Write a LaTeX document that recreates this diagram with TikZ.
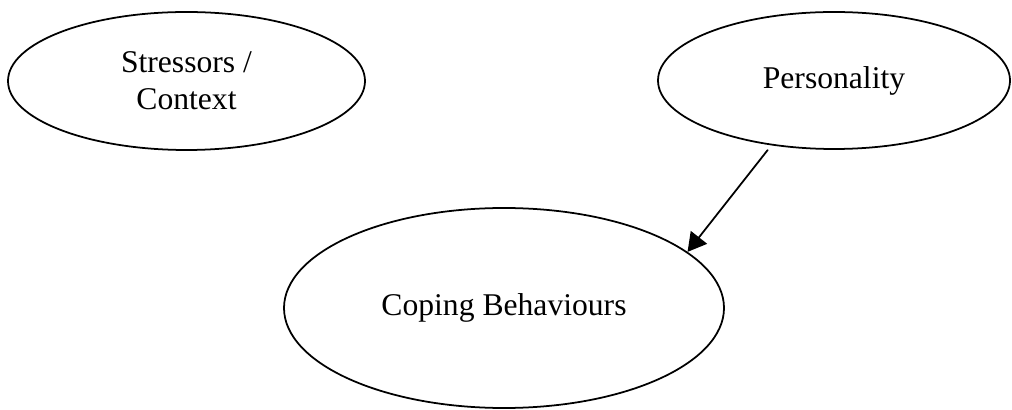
\documentclass[tikz,border=0pt]{standalone}
\usepackage{fontspec}
\setmainfont{Liberation Serif}
\usetikzlibrary{arrows.meta,shapes.geometric}

\begin{document}
\begin{tikzpicture}[>={Triangle[length=.37cm,width=.41cm]},line cap=round,line join=round,
    factor/.style={ellipse,draw,line width=1pt,inner sep=0pt,align=center,
      font=\fontsize{18}{21}\selectfont},
    link/.style={->,line width=1pt}]
    \useasboundingbox (0,0) rectangle (20.24,8.2);

    % The three factors.
    \node[factor,minimum width=7.14cm,minimum height=2.76cm] (stress) at (3.73,6.58)
      {Stressors /\\Context};
    \node[factor,minimum width=7.04cm,minimum height=2.74cm] (pers) at (16.68,6.59)
      {Personality};
    \node[factor,minimum width=8.80cm,minimum height=4.00cm] (cope) at (10.08,2.04)
      {Coping Behaviours};

    % Personality feeds into coping.
    \draw[link,shorten <=.12cm] (pers.226) -- (cope.17);
  \end{tikzpicture}
\end{document}
